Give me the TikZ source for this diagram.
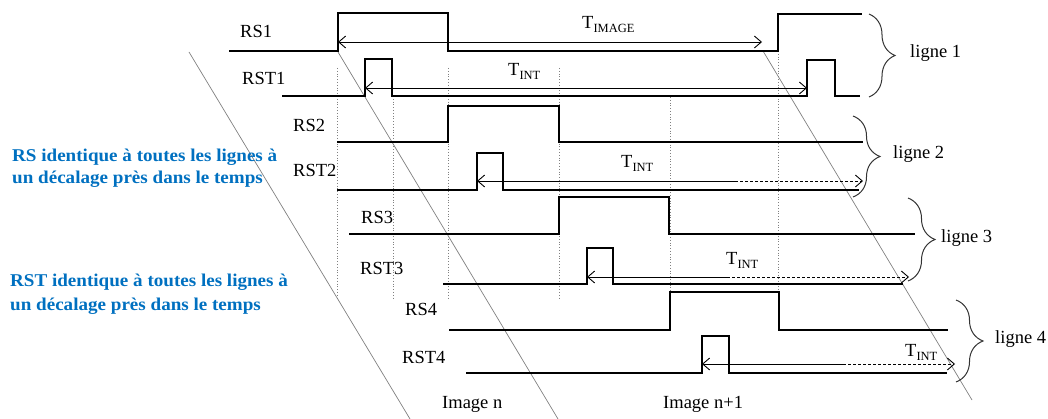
\documentclass[tikz,border=0pt]{standalone}
\usepackage{fontspec}
\setmainfont{Liberation Serif}
\newfontfamily\bluefont[FakeStretch=1.06]{Liberation Serif}
\usetikzlibrary{arrows.meta,decorations.pathreplacing}
\definecolor{txtblue}{RGB}{0,112,192}
\newcommand\Tsub[1]{T\raisebox{-4pt}{\fontsize{12.5}{12.5}\selectfont #1}}
\tikzset{
  sig/.style={line width=2pt, line join=miter},
  dimline/.style={line width=0.9pt},
  barbL/.style={arrows={Straight Barb[length=7pt,width=12pt]-}},
  barbR/.style={arrows={-Straight Barb[length=7pt,width=12pt]}},
  barbLR/.style={arrows={Straight Barb[length=7pt,width=12pt]-Straight Barb[length=7pt,width=12pt]}},
  dashpart/.style={dash pattern=on 3pt off 2pt},
  lbl/.style={anchor=base west, inner sep=0pt, font=\fontsize{18.5}{21}\selectfont},
  bluelbl/.style={anchor=base west, inner sep=0pt, text=txtblue, font=\bluefont\bfseries\fontsize{18}{22}\selectfont},
  guide/.style={gray, dotted, line width=0.8pt},
  diag/.style={gray, line width=0.7pt},
  brc/.style={decorate, decoration={brace, amplitude=#1}, line width=1pt, black!80},
}
\begin{document}
\begin{tikzpicture}[x=1pt,y=-1pt]
\useasboundingbox (0,0) rectangle (1048,419);

% diagonals
\draw[diag] (189,52) -- (410,419);
\draw[diag] (338,52) -- (558,419);
\draw[diag] (763,51) -- (972,400);

% dotted guides
\draw[guide] (337,68) -- (337,298);
\draw[guide] (393,96) -- (393,298);
\draw[guide] (448,68) -- (448,298);
\draw[guide] (559,68) -- (559,298);
\draw[guide] (670,97) -- (670,298);
\draw[guide] (778,51) -- (778,298);

% waveforms
\draw[sig] (229,51) -- (338,51) -- (338,13) -- (448,13) -- (448,51) -- (778,51) -- (778,14) -- (862,14);
\draw[sig] (282,96) -- (365,96) -- (365,59) -- (392,59) -- (392,96) -- (807,96) -- (807,60) -- (835,60) -- (835,96) -- (860,96);
\draw[sig] (337,142) -- (448,142) -- (448,106) -- (559,106) -- (559,142) -- (863,142);
\draw[sig] (337,190) -- (477,190) -- (477,153) -- (503,153) -- (503,190) -- (859,190);
\draw[sig] (349,234) -- (559,234) -- (559,197) -- (669,197) -- (669,234) -- (915,234);
\draw[sig] (443,284) -- (587,284) -- (587,248) -- (613,248) -- (613,284) -- (903,284);
\draw[sig] (449,330) -- (670,330) -- (670,292) -- (779,292) -- (779,330) -- (948,330);
\draw[sig] (466,373) -- (702,373) -- (702,336) -- (729,336) -- (729,373) -- (947,373);

% time arrows
\coordinate (ti1) at (338,42); \coordinate (ti2) at (762,42);
\draw[dimline,barbLR] (ti1) -- (ti2);
\coordinate (a1) at (365,88); \coordinate (b1) at (807,88);
\draw[dimline,barbLR] (a1) -- (b1);
\coordinate (a2) at (477,181); \coordinate (m2) at (735,181); \coordinate (b2) at (863,181);
\draw[dimline,barbL] (a2) -- (m2);
\draw[dimline,barbR,dashpart] (m2) -- (b2);
\coordinate (a3) at (587,277); \coordinate (m3) at (727,277); \coordinate (b3) at (909,277);
\draw[dimline,barbL] (a3) -- (m3);
\draw[dimline,barbR,dashpart] (m3) -- (b3);
\coordinate (a4) at (702,364); \coordinate (m4) at (843,364); \coordinate (b4) at (955,364);
\draw[dimline,barbL] (a4) -- (m4);
\draw[dimline,barbR,dashpart] (m4) -- (b4);

% braces
\draw[brc=26] (869,14) -- (869,97);
\draw[brc=27] (853,116) -- (853,197);
\draw[brc=27] (908,198) -- (908,281);
\draw[brc=27] (956,300) -- (956,382);

% labels
\node[lbl] (lrs1) at (240,38) {RS1};
\node[lbl] (lrst1) at (242,85) {RST1};
\node[lbl] (lrs2) at (293,132) {RS2};
\node[lbl] (lrst2) at (293,177) {RST2};
\node[lbl] (lrs3) at (361,224) {RS3};
\node[lbl] (lrst3) at (360,275) {RST3};
\node[lbl] (lrs4) at (405,316) {RS4};
\node[lbl] (lrst4) at (402,363) {RST4};
\node[lbl] (imn) at (442,408) {Image n};
\node[lbl] (imn1) at (663,408) {Image n+1};
\node[lbl] (lg1) at (910,58) {ligne 1};
\node[lbl] (lg2) at (893,159) {ligne 2};
\node[lbl] (lg3) at (941,243) {ligne 3};
\node[lbl] (lg4) at (995,343) {ligne 4};
\node[lbl] (timg) at (582,29) {\Tsub{IMAGE}};
\node[lbl] (tint1) at (508,76) {\Tsub{INT}};
\node[lbl] (tint2) at (621,168) {\Tsub{INT}};
\node[lbl] (tint3) at (726,265) {\Tsub{INT}};
\node[lbl] (tint4) at (905,356) {\Tsub{INT}};

% blue notes
\node[bluelbl] (n1a) at (12,162) {RS identique à toutes les lignes à};
\node[bluelbl] (n1b) at (12,184) {un décalage près dans le temps};
\node[bluelbl] (n2a) at (10,287) {RST identique à toutes les lignes à};
\node[bluelbl] (n2b) at (10,310) {un décalage près dans le temps};
\end{tikzpicture}
\end{document}
